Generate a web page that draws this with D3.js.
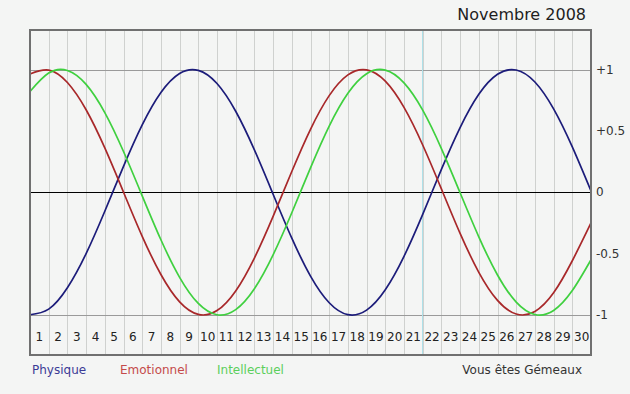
<!DOCTYPE html>
<html>
<head>
<meta charset="utf-8">
<script src="https://cdn.jsdelivr.net/npm/d3@7"></script>
<style>
    body { margin: 0; background: #f4f5f4; }
    svg { display: block; font-family: "DejaVu Sans", Verdana, sans-serif; }
    .grid-v { stroke: #cfd1cf; stroke-width: 1; }
    .grid-h { stroke: #9a9a9a; stroke-width: 1; }
    .zero-line { stroke: #000; stroke-width: 1; }
    .today { stroke: #aee0e8; stroke-width: 1; }
    .frame { fill: none; stroke: #707070; stroke-width: 2; }
    .curve { fill: none; stroke-width: 1.7; }
    .day-label { font-size: 12px; fill: #222; }
    .y-label { font-size: 12px; fill: #333; }
    .legend { font-size: 12px; }
</style>
</head>
<body>
<div class="chart-container"></div>
<script>
// Values at each day boundary (0..30)
const days = d3.range(1, 31);
const physique = [-0.998, -0.952, -0.778, -0.5, -0.155, 0.211, 0.549, 0.813, 0.968, 0.993,
    0.886, 0.66, 0.345, -0.016, -0.374, -0.683, -0.9, -0.997, -0.96, -0.794,
    -0.522, -0.18, 0.186, 0.527, 0.798, 0.961, 0.996, 0.898, 0.679, 0.369, 0.01];
const emotionnel = [0.964, 0.995, 0.894, 0.672, 0.361, 0.001, -0.359, -0.67, -0.893, -0.995,
    -0.964, -0.804, -0.536, -0.197, 0.169, 0.513, 0.787, 0.956, 0.997, 0.905,
    0.691, 0.385, 0.027, -0.335, -0.652, -0.881, -0.992, -0.971, -0.819, -0.558, -0.25];
const intellectuel = [0.821, 0.971, 0.992, 0.879, 0.649, 0.332, -0.029, -0.387, -0.693, -0.906,
    -0.998, -0.956, -0.786, -0.51, -0.167, 0.199, 0.539, 0.806, 0.965, 0.995,
    0.891, 0.669, 0.356, -0.004, -0.363, -0.674, -0.895, -0.996, -0.963, -0.801, -0.55];
const yTicks = [1, 0.5, 0, -0.5, -1];
const yTickLabels = ["+1", "+0.5", "0", "-0.5", "-1"];
const todayIndex = 21;
const title = "Novembre 2008";
const legendItems = [
    { name: "Physique", color: "#3b3b96", x: 32 },
    { name: "Emotionnel", color: "#c44a4a", x: 120 },
    { name: "Intellectuel", color: "#5ccf5c", x: 217 }
];
const signText = "Vous êtes Gémeaux";

class BiorhythmChart {
    // Draws the monthly biorhythm chart
    constructor(config) {
        this.config = config;
        this.svg = d3.select(".chart-container")
            .append("svg")
            .attr("width", config.width)
            .attr("height", config.height);
        this.x = d3.scaleLinear().domain([0, days.length]).range([config.left, config.right]);
        this.y = d3.scaleLinear().domain([-1, 1]).range([config.yMin, config.yMax]);
    }

    render() {
        this.renderGrid();
        this.renderCurves();
        this.renderFrame();
        this.renderLabels();
    }

    renderGrid() {
        const c = this.config;
        const g = this.svg.append("g");

        g.selectAll(".grid-v")
            .data(d3.range(1, days.length))
            .enter()
            .append("line")
            .attr("class", "grid-v")
            .attr("x1", d => Math.round(this.x(d)) + 0.5)
            .attr("x2", d => Math.round(this.x(d)) + 0.5)
            .attr("y1", c.top)
            .attr("y2", c.bottom);

        g.selectAll(".grid-h")
            .data([1, -1])
            .enter()
            .append("line")
            .attr("class", "grid-h")
            .attr("x1", c.left)
            .attr("x2", c.right)
            .attr("y1", d => Math.round(this.y(d)) + 0.5)
            .attr("y2", d => Math.round(this.y(d)) + 0.5);

        g.append("line")
            .attr("class", "today")
            .attr("x1", Math.round(this.x(todayIndex)) - 0.5)
            .attr("x2", Math.round(this.x(todayIndex)) - 0.5)
            .attr("y1", c.top)
            .attr("y2", c.bottom);

        g.append("line")
            .attr("class", "zero-line")
            .attr("x1", c.left)
            .attr("x2", c.right)
            .attr("y1", Math.round(this.y(0)) + 0.5)
            .attr("y2", Math.round(this.y(0)) + 0.5);
    }

    renderCurves() {
        const line = d3.line()
            .x((d, i) => this.x(i))
            .y(d => this.y(d))
            .curve(d3.curveNatural);

        const series = [
            { values: physique, color: "#1c1c7a" },
            { values: emotionnel, color: "#a8282a" },
            { values: intellectuel, color: "#3fd03f" }
        ];

        this.svg.append("g")
            .selectAll("path")
            .data(series)
            .enter()
            .append("path")
            .attr("class", "curve")
            .attr("stroke", d => d.color)
            .attr("d", d => line(d.values));
    }

    renderFrame() {
        const c = this.config;
        this.svg.append("rect")
            .attr("class", "frame")
            .attr("x", c.left)
            .attr("y", c.top)
            .attr("width", c.right - c.left)
            .attr("height", c.bottom - c.top);
    }

    renderLabels() {
        const c = this.config;

        // day numbers, centred in each cell
        this.svg.append("g")
            .selectAll("text")
            .data(days)
            .enter()
            .append("text")
            .attr("class", "day-label")
            .attr("x", (d, i) => this.x(i + 0.5))
            .attr("y", 341)
            .attr("text-anchor", "middle")
            .text(d => d);

        this.svg.append("g")
            .selectAll("text")
            .data(yTicks)
            .enter()
            .append("text")
            .attr("class", "y-label")
            .attr("x", c.right + 5)
            .attr("y", d => this.y(d))
            .attr("dy", "0.35em")
            .text((d, i) => yTickLabels[i]);

        this.svg.append("text")
            .attr("x", 586)
            .attr("y", 20)
            .attr("text-anchor", "end")
            .style("font-size", "16px")
            .style("fill", "#1e1e1e")
            .text(title);

        this.svg.append("g")
            .selectAll("text")
            .data(legendItems)
            .enter()
            .append("text")
            .attr("class", "legend")
            .attr("x", d => d.x)
            .attr("y", 374)
            .style("fill", d => d.color)
            .text(d => d.name);

        this.svg.append("text")
            .attr("class", "legend")
            .attr("x", 582)
            .attr("y", 374)
            .attr("text-anchor", "end")
            .style("fill", "#333")
            .text(signText);
    }
}

const chart = new BiorhythmChart({
    width: 630, height: 394,
    left: 30, right: 591, top: 30, bottom: 355,
    yMin: 315, yMax: 69.5
});
chart.render();
</script>
</body>
</html>
